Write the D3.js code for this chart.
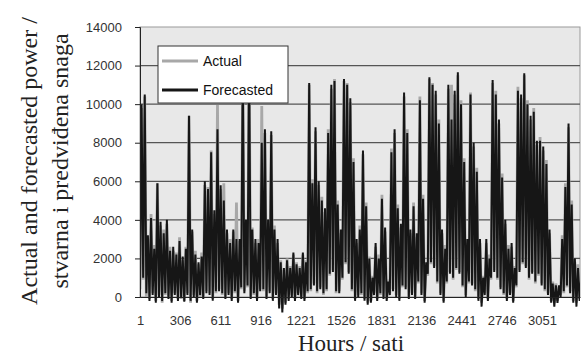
<!DOCTYPE html>
<meta charset="utf-8">
<script src="https://d3js.org/d3.v7.min.js"></script>
<style>
  body { margin: 0; background: #fff; }
  .tick text { font-family: Arial, "Liberation Sans", sans-serif; fill: #333; }
</style>
<div id="my_dataviz"></div>
<script>
// daily peak and trough of the series (one value per 24 h)
var forecastHigh = [
  10000, 10500, 3200, 4100, 2500, 5900, 3900, 3300, 4000, 2400,
  2600, 2200, 2900, 2100, 2500, 9400, 3500, 2200, 1800, 2100,
  6000, 5600, 7500, 4500, 8700, 5800, 5000, 3500, 2800, 3500,
  3000, 3000, 12000, 4000, 12500, 3500, 3000, 2800, 8000, 8700,
  4000, 8600, 3500, 3000, 1800, 1500, 1900, 1500, 2300, 1700,
  1500, 2300, 1800, 11100, 5900, 8800, 6000, 5000, 4600, 8500,
  11000, 11200, 4800, 3500, 11300, 11000, 10300, 7000, 3000, 3500,
  7600, 4700, 2000, 1000, 2800, 2000, 5100, 3600, 800, 7500,
  8700, 4600, 3800, 10600, 8500, 3500, 4700, 3300, 10200, 5100,
  1800, 11400, 11000, 10700, 9000, 3500, 2500, 11000, 9200, 10700,
  11650, 10000, 7000, 3000, 10500, 8000, 6500, 3000, 1000, 3000,
  2000, 11250, 10500, 9200, 6200, 4000, 2500, 2800, 1500, 10700,
  10500, 11600, 10000, 9400, 9600, 8100, 8100, 7800, 6900, 3500,
  700, 600, 600, 3000, 5700, 9000, 4800, 2000, 1500, 1000
];
var forecastLow = [
  500, 1000, 200, -200, 100, -300, 0, -200, 200, -100,
  -300, 100, -200, 0, -250, 100, -200, 0, -300, 100,
  -100, 200, 100, -200, 300, 300, 200, -100, 100, -200,
  300, -300, 500, 200, 600, -100, 200, -200, 300, 400,
  -100, 200, -200, 100, -600, -800, -400, -200, 0, -200,
  100, -100, -200, 300, 400, 600, 300, 400, 200, 400,
  1200, 1300, 300, 200, 1000, 1800, 1200, 400, -200, 0,
  200, -200, -400, -300, 100, -200, 200, -100, -200, 100,
  300, 0, -200, 600, 400, -100, 100, -100, 800, 100,
  -300, 1200, 1800, 1500, 800, 100, -300, 800, 1200, 1000,
  1500, 1200, 600, 0, 800, 600, 400, -200, -500, 100,
  -200, 1000, 1300, 1000, 400, 200, -200, 100, -300, 600,
  1300, 1800, 1500, 1000, 1200, 800, 1200, 600, 400, 100,
  -300, -500, -300, 0, 300, 600, 200, -300, -500, -200
];
var actualHigh = [
  9800, 10400, 3000, 4300, 2700, 5900, 3700, 3500, 3800, 2600,
  2400, 2300, 3100, 1900, 2600, 9400, 3400, 2400, 1700, 2300,
  5800, 5700, 7600, 4300, 9950, 5600, 5900, 3300, 3000, 3400,
  4900, 2900, 11800, 3800, 12300, 3600, 2800, 3000, 9900, 8500,
  3800, 8400, 3700, 2800, 1900, 1400, 2000, 1600, 2200, 1800,
  1600, 2200, 1900, 11000, 6100, 8600, 5800, 5200, 4400, 8700,
  10800, 11300, 5000, 3300, 11200, 11100, 10100, 7200, 2800, 3700,
  7400, 4900, 2100, 1100, 2600, 2200, 5300, 3400, 900, 7700,
  8500, 4800, 3600, 10400, 8700, 3300, 4900, 3100, 10400, 5300,
  1700, 11300, 11100, 10500, 9200, 3300, 2700, 10800, 11000, 10500,
  11500, 10200, 7200, 2800, 10600, 7800, 6700, 2800, 1100, 2800,
  2200, 11100, 10700, 9000, 6400, 3800, 2700, 2600, 1600, 10900,
  10300, 11500, 10200, 9200, 9800, 7900, 8300, 7600, 7100, 3300,
  800, 700, 500, 3200, 5900, 8800, 5000, 1800, 1700, 900
];
var actualLow = [
  400, 900, 0, -100, 200, -200, 100, -300, 100, 0,
  -200, 200, -100, -100, -200, 200, -300, 100, -200, 0,
  0, 300, 200, -100, 200, 400, 100, 0, 200, -100,
  200, -200, 400, 300, 500, 0, 100, -100, 400, 300,
  0, 300, -100, 200, -400, -600, -300, -100, 100, -100,
  200, 0, -100, 200, 300, 700, 200, 500, 100, 300,
  1100, 1400, 200, 300, 900, 1700, 1300, 300, -100, 100,
  100, -100, -300, -200, 200, -100, 100, 0, -100, 200,
  400, 100, -100, 500, 500, 0, 200, 0, 700, 200,
  -200, 1100, 1700, 1600, 700, 200, -200, 700, 1300, 900,
  1400, 1300, 500, 100, 700, 700, 300, -100, -300, 200,
  -100, 900, 1400, 900, 500, 100, -100, 200, -200, 500,
  1400, 1700, 1600, 900, 1300, 700, 1100, 700, 300, 200,
  -200, -300, -200, 100, 200, 500, 300, -200, -300, -100
];
var yTicks = [0, 2000, 4000, 6000, 8000, 10000, 12000, 14000];
var xTicks = [1, 306, 611, 916, 1221, 1526, 1831, 2136, 2441, 2746, 3051];
var seriesNames = ["Actual", "Forecasted"];
var seriesColors = ["#a8a8a8", "#161616"];

var margin = {top: 27, right: 2, bottom: 60, left: 140},
  width = 582 - margin.left - margin.right,
  height = 357 - margin.top - margin.bottom;

var svgRoot = d3.select("#my_dataviz")
  .append("svg")
    .attr("width", 582)
    .attr("height", 357);
var svg = svgRoot.append("g")
    .attr("transform", "translate(" + margin.left + "," + margin.top + ")");

var x = d3.scaleLinear().domain([1, 3340]).range([0, width]);
var y = d3.scaleLinear().domain([0, 14000]).range([height, 0]);

// plot background
svg.append("rect")
  .attr("width", width)
  .attr("height", height)
  .style("fill", "#e8e8e8")
  .style("stroke", "#9a9a9a");

// horizontal grid
svg.selectAll(".grid")
  .data(yTicks.filter(function(d) { return d > 0 && d < 14000; }))
  .enter().append("line")
    .attr("x1", 0).attr("x2", width)
    .attr("y1", function(d) { return y(d); })
    .attr("y2", function(d) { return y(d); })
    .style("stroke", "#555")
    .style("stroke-width", 1.2);

// build hourly points: trough then peak for every day
function toPoints(low, high) {
  var pts = [];
  for (var i = 0; i < high.length; i++) {
    pts.push([i * 24 + 1, low[i]]);
    pts.push([i * 24 + 13, high[i]]);
  }
  return pts;
}
var series = [toPoints(actualLow, actualHigh), toPoints(forecastLow, forecastHigh)];

svg.append("clipPath").attr("id", "clip")
  .append("rect").attr("x", 0).attr("y", -2).attr("width", width).attr("height", height + 20);

var line = d3.line()
  .x(function(d) { return x(d[0]); })
  .y(function(d) { return y(d[1]); });

svg.append("g").attr("clip-path", "url(#clip)")
  .selectAll("path")
  .data(series)
  .enter().append("path")
    .attr("d", line)
    .style("fill", "none")
    .style("stroke", function(d, i) { return seriesColors[i]; })
    .style("stroke-width", function(d, i) { return i == 0 ? 2.8 : 2; })
    .style("stroke-linejoin", "bevel");

// axes
var yAxis = svg.append("g")
  .call(d3.axisLeft(y).tickValues(yTicks).tickSize(5).tickPadding(13).tickFormat(d3.format("d")));
yAxis.selectAll("text").style("font-size", "13px");
yAxis.select(".domain").style("stroke", "#222");
yAxis.selectAll(".tick line").style("stroke", "#222");

var xAxis = svg.append("g")
  .attr("transform", "translate(0," + height + ")")
  .call(d3.axisBottom(x).tickValues(xTicks).tickSize(0).tickPadding(19).tickFormat(d3.format("d")));
xAxis.selectAll("text").style("font-size", "13px");
xAxis.select(".domain").style("stroke", "#222");

// legend drawn over the data
var legend = svg.append("g").attr("transform", "translate(18,19)");
legend.append("rect")
  .attr("width", 130)
  .attr("height", 57)
  .style("fill", "#fff")
  .style("stroke", "#333");
seriesNames.forEach(function(name, i) {
  var ly = 15 + i * 29;
  legend.append("line")
    .attr("x1", 4).attr("x2", 40)
    .attr("y1", ly).attr("y2", ly)
    .style("stroke", seriesColors[i])
    .style("stroke-width", 3);
  legend.append("text")
    .attr("x", 45)
    .attr("y", ly)
    .attr("dy", "0.35em")
    .style("font-family", "Arial, 'Liberation Sans', sans-serif")
    .style("font-size", "14px")
    .style("fill", "#111")
    .text(name);
});

// axis titles
var yTitle = svgRoot.append("text")
  .attr("transform", "translate(37,161) rotate(-90)")
  .attr("text-anchor", "middle")
  .style("font-family", "'Liberation Serif', 'Times New Roman', serif")
  .style("font-size", "24px")
  .style("fill", "#222");
yTitle.append("tspan").attr("x", 0).attr("y", 0).text("Actual and forecasted power /");
yTitle.append("tspan").attr("x", 0).attr("y", 31).text("stvarna i predviđena snaga");

svgRoot.append("text")
  .attr("x", 351)
  .attr("y", 351)
  .attr("text-anchor", "middle")
  .style("font-family", "'Liberation Serif', 'Times New Roman', serif")
  .style("font-size", "23px")
  .style("fill", "#222")
  .text("Hours / sati");
</script>
